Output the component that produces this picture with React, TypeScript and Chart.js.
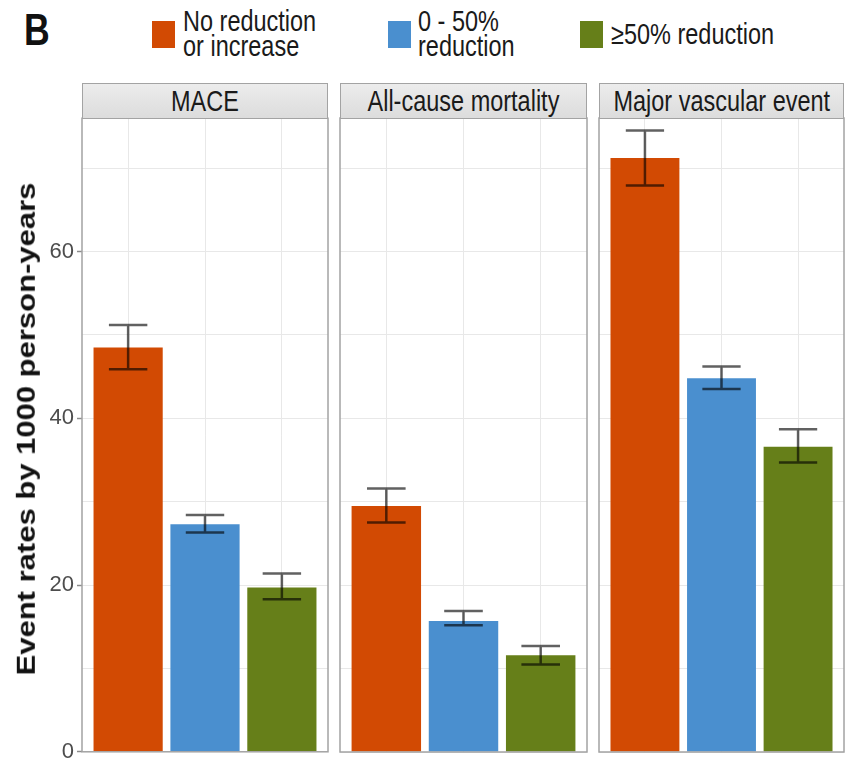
import React, { useEffect, useRef } from 'react';
import { Chart, registerables } from 'chart.js';

Chart.register(...registerables);

// ---------- data ----------
const panelTitles = ['MACE', 'All-cause mortality', 'Major vascular event'];
const groupNames = ['No reduction or increase', '0 - 50% reduction', '≥50% reduction'];
const groupLegendLines = [['No reduction', 'or increase'], ['0 - 50%', 'reduction'], ['≥50% reduction']];
const groupColors = ['#D24A03', '#4A8FCF', '#667F19'];

// event rates per 1000 person-years, ordered as panelTitles
const rateNoReduction = [48.5, 29.5, 71.2];
const rateModerate = [27.3, 15.7, 44.8];
const rateStrong = [19.7, 11.6, 36.6];
// lower / upper limits of the error bars
const lowNoReduction = [45.9, 27.5, 67.9];
const lowModerate = [26.3, 15.2, 43.5];
const lowStrong = [18.3, 10.5, 34.7];
const highNoReduction = [51.2, 31.6, 74.5];
const highModerate = [28.4, 16.9, 46.2];
const highStrong = [21.4, 12.7, 38.7];

const yMax = 76;
const yGridValues = [0, 10, 20, 30, 40, 50, 60, 70];
const yLabelValues = [0, 20, 40, 60];
const yTitle = 'Event rates by 1000 person-years';
const panelLetter = 'B';

// ---------- layout ----------
const FONT = '"Liberation Sans", Arial, Helvetica, sans-serif';
const PAD = 6;
const VPAD = 16;
const PANEL_LEFT = [82, 340, 599];
const PANEL_WIDTH = [246, 247, 245];
const PANEL_TOP = 118;
const PANEL_BOTTOM = 752;
const STRIP_TOP = 83;
const SQUEEZE = 'scaleX(0.81)';

const errorBarPlugin = (lows: number[], highs: number[]) => ({
  id: 'errorBars',
  afterDatasetsDraw(chart: any) {
    const { ctx, scales } = chart;
    const x = scales.x;
    const y = scales.y;
    ctx.save();
    ctx.strokeStyle = 'rgba(0,0,0,0.62)';
    ctx.lineWidth = 2.5;
    lows.forEach((lo, i) => {
      const cx = x.getPixelForValue(i);
      const half = x.getPixelForValue(i + 0.25) - cx;
      const yl = y.getPixelForValue(lo);
      const yh = y.getPixelForValue(highs[i]);
      ctx.beginPath();
      ctx.moveTo(cx, yl);
      ctx.lineTo(cx, yh);
      ctx.moveTo(cx - half, yl);
      ctx.lineTo(cx + half, yl);
      ctx.moveTo(cx - half, yh);
      ctx.lineTo(cx + half, yh);
      ctx.stroke();
    });
    ctx.restore();
  },
});

const panelBorderPlugin = {
  id: 'panelBorder',
  afterDraw(chart: any) {
    const { ctx, chartArea } = chart;
    ctx.save();
    ctx.strokeStyle = '#a3a3a3';
    ctx.lineWidth = 1.5;
    ctx.strokeRect(chartArea.left, chartArea.top, chartArea.right - chartArea.left, chartArea.bottom - chartArea.top);
    ctx.restore();
  },
};

function Panel({ index }: { index: number }) {
  const ref = useRef<HTMLCanvasElement>(null);
  const first = index === 0;
  const canvasLeft = first ? 0 : PANEL_LEFT[index] - PAD;
  const canvasWidth = first ? PANEL_LEFT[0] + PANEL_WIDTH[0] + PAD : PANEL_WIDTH[index] + 2 * PAD;
  const canvasTop = PANEL_TOP - VPAD;
  const canvasHeight = PANEL_BOTTOM - PANEL_TOP + 2 * VPAD;

  useEffect(() => {
    const means = [rateNoReduction[index], rateModerate[index], rateStrong[index]];
    const lows = [lowNoReduction[index], lowModerate[index], lowStrong[index]];
    const highs = [highNoReduction[index], highModerate[index], highStrong[index]];
    const chart = new Chart(ref.current as HTMLCanvasElement, {
      type: 'bar',
      data: {
        datasets: [
          {
            label: panelTitles[index],
            data: means.map((y, i) => ({ x: i, y })),
            backgroundColor: groupColors,
            borderWidth: 0,
            categoryPercentage: 1,
            barPercentage: 0.9,
          } as any,
        ],
      },
      options: {
        animation: false,
        responsive: false,
        layout: { autoPadding: false, padding: { left: first ? 0 : PAD, right: PAD, top: VPAD, bottom: VPAD } },
        plugins: { legend: { display: false }, tooltip: { enabled: false } },
        scales: {
          x: {
            type: 'linear',
            min: -0.6,
            max: 2.6,
            offset: false,
            afterBuildTicks: (s: any) => {
              s.ticks = [0, 1, 2].map((v) => ({ value: v }));
            },
            ticks: { display: false },
            grid: { color: '#e8e8e8', lineWidth: 1, drawTicks: false, offset: false },
            border: { display: false },
          },
          y: {
            type: 'linear',
            min: 0,
            max: yMax,
            afterBuildTicks: (s: any) => {
              s.ticks = yGridValues.map((v) => ({ value: v }));
            },
            afterFit: (s: any) => {
              s.width = first ? PANEL_LEFT[0] : 0;
            },
            ticks: {
              display: first,
              callback: (v: any) => (yLabelValues.includes(Number(v)) ? String(v) : ''),
              font: { family: FONT, size: 22 },
              color: '#4d4d4d',
              padding: 3,
            },
            grid: {
              color: '#e8e8e8',
              lineWidth: 1,
              drawTicks: first,
              tickLength: 5,
              tickWidth: 1.5,
              tickColor: (c: any) => (c.tick && yLabelValues.includes(c.tick.value) ? '#8c8c8c' : 'rgba(0,0,0,0)'),
            },
            border: { display: false },
            title: { display: false },
          },
        },
      } as any,
      plugins: [errorBarPlugin(lows, highs), panelBorderPlugin],
    });
    return () => chart.destroy();
  }, [index]);

  return (
    <>
      <canvas
        ref={ref}
        width={canvasWidth}
        height={canvasHeight}
        style={{ position: 'absolute', left: canvasLeft, top: canvasTop }}
      />
      <div
        style={{
          position: 'absolute',
          left: PANEL_LEFT[index],
          top: STRIP_TOP,
          width: PANEL_WIDTH[index],
          height: PANEL_TOP - STRIP_TOP + 1,
          boxSizing: 'border-box',
          border: '1.5px solid #a3a3a3',
          background: 'linear-gradient(#ececec, #dcdcdc)',
          display: 'flex',
          justifyContent: 'center',
          alignItems: 'center',
          overflow: 'hidden',
        }}
      >
        <span
          style={{
            fontFamily: FONT,
            fontSize: 29,
            color: '#1a1a1a',
            whiteSpace: 'nowrap',
            transform: SQUEEZE,
            transformOrigin: 'center',
            display: 'inline-block',
            lineHeight: '32px',
          }}
        >
          {panelTitles[index]}
        </span>
      </div>
    </>
  );
}

const legendSquareLeft = [152, 388, 580];
const legendTextLeft = [183, 418, 611];

function Legend() {
  return (
    <>
      {groupNames.map((name, i) => {
        const lines = groupLegendLines[i];
        const top = lines.length > 1 ? 9 : 22;
        return (
          <React.Fragment key={name}>
            <div
              title={name}
              style={{
                position: 'absolute',
                left: legendSquareLeft[i],
                top: 21,
                width: 23,
                height: 27,
                background: groupColors[i],
              }}
            />
            <div
              style={{
                position: 'absolute',
                left: legendTextLeft[i],
                top,
                fontFamily: FONT,
                fontSize: 29,
                lineHeight: '25px',
                color: '#1a1a1a',
                whiteSpace: 'nowrap',
                transform: SQUEEZE,
                transformOrigin: 'left top',
              }}
            >
              {lines.map((l) => (
                <div key={l}>{l}</div>
              ))}
            </div>
          </React.Fragment>
        );
      })}
    </>
  );
}

export default function App() {
  return (
    <div
      style={{
        position: 'absolute',
        left: 0,
        top: 0,
        width: 850,
        height: 760,
        background: '#ffffff',
        overflow: 'hidden',
      }}
    >
      <div
        style={{
          position: 'absolute',
          left: 24,
          top: 6,
          fontFamily: FONT,
          fontWeight: 'bold',
          fontSize: 44,
          lineHeight: '48px',
          color: '#111111',
          transform: SQUEEZE,
          transformOrigin: 'left top',
        }}
      >
        {panelLetter}
      </div>
      <Legend />
      {panelTitles.map((t, i) => (
        <Panel key={t} index={i} />
      ))}
      <div
        style={{
          position: 'absolute',
          left: 26,
          top: 429,
          fontFamily: FONT,
          fontWeight: 'bold',
          fontSize: 31,
          lineHeight: '31px',
          color: '#111111',
          whiteSpace: 'nowrap',
          transform: 'translate(-50%, -50%) rotate(-90deg) scaleY(0.81)',
        }}
      >
        {yTitle}
      </div>
    </div>
  );
}
